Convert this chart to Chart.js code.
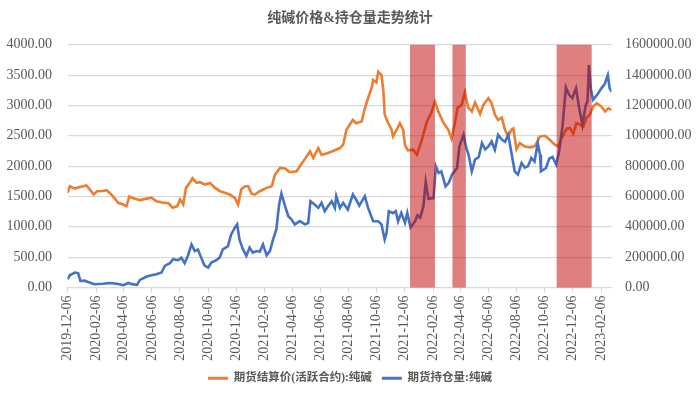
<!DOCTYPE html>
<html>
<head>
<meta charset="utf-8">
<script src="https://cdn.jsdelivr.net/npm/chart.js@4.4.1/dist/chart.umd.min.js"></script>
<style>
html,body{margin:0;padding:0;background:#fff;}
#wrap{width:700px;height:394px;position:relative;}
</style>
</head>
<body>
<div id="wrap"><canvas id="c" width="700" height="394"></canvas></div>
<script>
const chartTitle = '纯碱价格&持仓量走势统计';
const priceLabel = '期货结算价(活跃合约):纯碱';
const oiLabel = '期货持仓量:纯碱';

const priceDates = [
'2019-12-06','2019-12-11','2019-12-22','2020-01-02','2020-01-16','2020-01-23','2020-02-01','2020-02-08','2020-02-21','2020-02-29',
'2020-03-13','2020-03-25','2020-04-05','2020-04-12','2020-04-18','2020-04-27','2020-05-11','2020-05-26','2020-06-05','2020-06-16',
'2020-06-28','2020-07-12','2020-07-21','2020-07-31','2020-08-06','2020-08-13','2020-08-19','2020-08-27','2020-09-02','2020-09-11',
'2020-09-18','2020-09-29','2020-10-10','2020-10-21','2020-11-01','2020-11-11','2020-11-22','2020-12-03','2020-12-10','2020-12-17',
'2020-12-25','2021-01-01','2021-01-08','2021-01-15','2021-01-26','2021-02-10','2021-02-21','2021-02-28','2021-03-11','2021-03-22',
'2021-04-01','2021-04-16','2021-04-23','2021-05-04','2021-05-15','2021-05-22','2021-06-02','2021-06-09','2021-06-20','2021-07-04',
'2021-07-19','2021-07-26','2021-08-02','2021-08-09','2021-08-16','2021-08-23','2021-09-04','2021-09-11','2021-09-18','2021-09-26',
'2021-09-29','2021-10-06','2021-10-10','2021-10-17','2021-10-21','2021-10-24','2021-10-31','2021-11-08','2021-11-11','2021-11-19',
'2021-11-26','2021-12-03','2021-12-07','2021-12-13','2021-12-25','2022-01-02','2022-01-12','2022-01-23','2022-02-03','2022-02-10',
'2022-02-17','2022-02-28','2022-03-11','2022-03-18','2022-03-25','2022-03-31','2022-04-09','2022-04-16','2022-04-23','2022-05-01',
'2022-05-08','2022-05-19','2022-05-26','2022-06-06','2022-06-13','2022-06-20','2022-06-27','2022-07-05','2022-07-12','2022-07-19',
'2022-07-26','2022-07-30','2022-08-06','2022-08-13','2022-08-24','2022-09-04','2022-09-15','2022-09-26','2022-10-07','2022-10-17',
'2022-10-28','2022-11-04','2022-11-12','2022-11-23','2022-11-30','2022-12-07','2022-12-14','2022-12-21','2022-12-29','2023-01-05',
'2023-01-12','2023-01-19','2023-01-27','2023-02-06','2023-02-14','2023-02-21','2023-02-28'
];
const priceValues = [
1560,1668,1630,1655,1680,1620,1532,1587,1590,1603,
1510,1395,1368,1340,1500,1470,1440,1465,1480,1422,
1400,1390,1313,1340,1450,1368,1642,1724,1800,1724,
1735,1697,1724,1642,1587,1560,1532,1478,1368,1620,
1668,1668,1550,1532,1587,1642,1668,1860,1970,1960,
1900,1915,1997,2120,2243,2135,2298,2188,2210,2250,
2298,2353,2600,2681,2763,2708,2735,2950,3120,3300,
3420,3380,3557,3502,3256,2850,2720,2600,2490,2600,
2709,2600,2350,2260,2271,2188,2420,2720,2900,3064,
2910,2720,2600,2450,2700,2960,3010,3215,2970,2900,
3050,2860,3010,3119,3037,2850,2763,2800,2600,2490,
2600,2620,2280,2380,2325,2310,2330,2490,2500,2435,
2353,2325,2463,2620,2627,2530,2709,2690,2654,2800,
2845,2982,3037,2982,2900,2955,2930
];

const oiDates = [
'2019-12-06','2019-12-11','2019-12-22','2019-12-29','2020-01-03','2020-01-12','2020-01-23','2020-02-02','2020-02-21','2020-03-07',
'2020-03-22','2020-04-05','2020-04-16','2020-04-24','2020-05-05','2020-05-11','2020-05-26','2020-06-05','2020-06-16','2020-06-27',
'2020-07-04','2020-07-15','2020-07-22','2020-08-02','2020-08-09','2020-08-16','2020-08-23','2020-08-31','2020-09-07','2020-09-14',
'2020-09-21','2020-09-28','2020-10-06','2020-10-13','2020-10-24','2020-10-31','2020-11-07','2020-11-18','2020-11-25','2020-12-03',
'2020-12-08','2020-12-13','2020-12-20','2020-12-28','2021-01-04','2021-01-11','2021-01-19','2021-01-26','2021-02-02','2021-02-10',
'2021-02-17','2021-02-24','2021-03-03','2021-03-09','2021-03-14','2021-03-22','2021-03-29','2021-04-05','2021-04-12','2021-04-23',
'2021-05-04','2021-05-11','2021-05-16','2021-05-25','2021-06-02','2021-06-09','2021-06-16','2021-06-23','2021-07-01','2021-07-08',
'2021-07-11','2021-07-19','2021-07-26','2021-08-05','2021-08-16','2021-08-23','2021-08-30','2021-09-11','2021-09-18','2021-09-29',
'2021-10-10','2021-10-17','2021-10-24','2021-10-28','2021-11-02','2021-11-11','2021-11-17','2021-11-22','2021-11-29','2021-12-07',
'2021-12-12','2021-12-19','2021-12-29','2022-01-03','2022-01-09','2022-01-16','2022-01-21','2022-01-27','2022-02-07','2022-02-12',
'2022-02-18','2022-02-24','2022-03-05','2022-03-12','2022-03-19','2022-03-30','2022-04-04','2022-04-13','2022-04-19','2022-04-24',
'2022-05-01','2022-05-08','2022-05-16','2022-05-23','2022-05-30','2022-06-06','2022-06-13','2022-06-20','2022-06-27','2022-07-05',
'2022-07-12','2022-07-19','2022-07-26','2022-08-02','2022-08-09','2022-08-17','2022-08-24','2022-08-31','2022-09-07','2022-09-14',
'2022-09-21','2022-09-26','2022-09-28','2022-10-09','2022-10-16','2022-10-23','2022-10-31','2022-11-07','2022-11-14','2022-11-21',
'2022-11-28','2022-12-05','2022-12-13','2022-12-20','2022-12-27','2023-01-03','2023-01-07','2023-01-10','2023-01-14','2023-01-19',
'2023-01-28','2023-02-06','2023-02-13','2023-02-20','2023-02-24','2023-02-28'
];
const oiValues = [
54500,80800,98500,95000,43000,45000,33000,21700,25000,30000,
25000,15000,30000,22000,18000,50000,72000,80800,87000,98500,
142000,160000,186000,180000,197000,160000,208000,284000,240000,250000,
197000,146000,131000,164000,181000,197000,252000,273000,350000,394000,
416000,317000,255000,208000,263000,230000,240000,235000,284000,212000,
240000,317000,383000,547000,619000,536000,470000,448000,416000,438000,
416000,425000,569000,547000,525000,558000,503000,536000,569000,525000,
602000,525000,558000,514000,613000,580000,540000,602000,525000,437000,
437000,416000,317000,360000,503000,490000,503000,437000,492000,427000,
492000,395000,437000,475000,460000,536000,695000,585000,590000,799000,
755000,765000,667000,690000,744000,788000,930000,1007000,920000,875000,
766000,843000,860000,952000,910000,930000,963000,908000,1007000,975000,
960000,1007000,887000,766000,744000,821000,790000,800000,854000,830000,
952000,875000,766000,788000,850000,860000,810000,908000,1070000,1320000,
1270000,1250000,1314000,1182000,1073000,1200000,1230000,1467000,1314000,1237000,
1270000,1313000,1340000,1400000,1313000,1291000
];

const tickLabels = [
'2019-12-06','2020-02-06','2020-04-06','2020-06-06','2020-08-06','2020-10-06','2020-12-06',
'2021-02-06','2021-04-06','2021-06-06','2021-08-06','2021-10-06','2021-12-06',
'2022-02-06','2022-04-06','2022-06-06','2022-08-06','2022-10-06','2022-12-06','2023-02-06'
];
const axisStart = '2019-12-06';
const axisEnd = '2023-02-28';

const shadeStarts = ['2021-12-18','2022-03-20','2022-11-01'];
const shadeEnds   = ['2022-02-10','2022-04-18','2023-01-16'];

const DAY = 86400000;
const t0 = Date.parse(axisStart + 'T00:00:00Z');
function dayOf(s){ return Math.round((Date.parse(s + 'T00:00:00Z') - t0) / DAY); }

const ORANGE = '#ED7D31';
const BLUE = '#4472C4';
const GRID = '#D9D9D9';
const TEXT = '#595959';
const SERIF = "'Liberation Serif','Times New Roman','Noto Sans CJK SC',serif";
const CJK = "'Liberation Serif','Noto Sans CJK SC',serif";

const shadePlugin = {
  id: 'shade',
  afterDatasetsDraw(chart){
    const {ctx, chartArea, scales} = chart;
    const x = scales.x;
    ctx.save();
    ctx.fillStyle = 'rgba(192,0,0,0.5)';
    shadeStarts.forEach((s, i) => {
      const x1 = x.getPixelForValue(dayOf(s));
      const x2 = x.getPixelForValue(dayOf(shadeEnds[i]));
      ctx.fillRect(x1, chartArea.top, x2 - x1, chartArea.bottom - chartArea.top);
    });
    ctx.restore();
  }
};

Chart.defaults.color = TEXT;

new Chart(document.getElementById('c'), {
  type: 'line',
  data: {
    datasets: [
      {
        label: priceLabel,
        data: priceDates.map((d, i) => ({x: dayOf(d), y: priceValues[i]})),
        borderColor: ORANGE,
        backgroundColor: ORANGE,
        borderWidth: 2.6,
        pointRadius: 0,
        tension: 0,
        yAxisID: 'y',
        order: 1
      },
      {
        label: oiLabel,
        data: oiDates.map((d, i) => ({x: dayOf(d), y: oiValues[i]})),
        borderColor: BLUE,
        backgroundColor: BLUE,
        borderWidth: 2.6,
        pointRadius: 0,
        tension: 0,
        yAxisID: 'y1',
        order: 0
      }
    ]
  },
  options: {
    responsive: false,
    devicePixelRatio: 1,
    animation: false,
    layout: {padding: {top: 0, left: 0, right: 0, bottom: 0}},
    plugins: {
      title: {
        display: true,
        text: chartTitle,
        color: TEXT,
        font: {family: CJK, size: 14, weight: 'bold'},
        padding: {top: 10, bottom: 18}
      },
      legend: {
        position: 'bottom',
        labels: {
          boxWidth: 20,
          boxHeight: 3,
          padding: 10,
          color: TEXT,
          font: {family: CJK, size: 11.5, weight: 'bold'},
          sort: (a, b) => a.datasetIndex - b.datasetIndex,
          generateLabels(chart){
            const items = Chart.defaults.plugins.legend.labels.generateLabels(chart);
            return items.map(it => Object.assign(it, {lineWidth: 0, fillStyle: it.strokeStyle}));
          }
        }
      },
      tooltip: {enabled: false}
    },
    scales: {
      x: {
        type: 'linear',
        min: 0,
        max: dayOf(axisEnd),
        afterBuildTicks(axis){ axis.ticks = tickLabels.map(l => ({value: dayOf(l)})); },
        afterFit(axis){ axis.height = 75; },
        ticks: {
          autoSkip: false,
          minRotation: 90,
          maxRotation: 90,
          padding: 3,
          color: TEXT,
          font: {family: SERIF, size: 14},
          callback: (v, i) => tickLabels[i]
        },
        grid: {
          drawOnChartArea: false,
          drawTicks: true,
          tickLength: 5,
          color: GRID
        },
        border: {display: true, color: GRID, width: 1}
      },
      y: {
        position: 'left',
        min: 0,
        max: 4000,
        afterFit(axis){ axis.width = 67.5; },
        ticks: {
          stepSize: 500,
          padding: 15.5,
          color: TEXT,
          font: {family: SERIF, size: 14},
          callback: v => Number(v).toFixed(2)
        },
        grid: {color: GRID, lineWidth: 1.2, drawTicks: false},
        border: {display: false}
      },
      y1: {
        position: 'right',
        min: 0,
        max: 1600000,
        afterFit(axis){ axis.width = 88.5; },
        ticks: {
          stepSize: 200000,
          padding: 13.5,
          color: TEXT,
          font: {family: SERIF, size: 14},
          callback: v => Number(v).toFixed(2)
        },
        grid: {drawOnChartArea: false, drawTicks: false},
        border: {display: false}
      }
    }
  },
  plugins: [shadePlugin]
});
</script>
</body>
</html>
